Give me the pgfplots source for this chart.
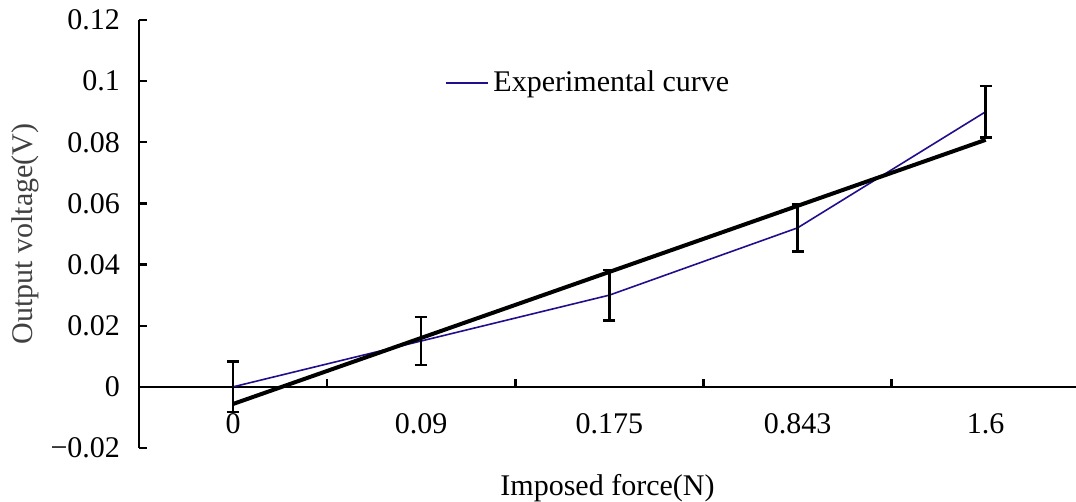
\documentclass[border=0pt]{standalone}
\usepackage{fontspec}
\setmainfont{Liberation Serif}
\usepackage{pgfplots}
\pgfplotsset{compat=1.18}
\usetikzlibrary{calc}
\definecolor{expblue}{RGB}{34,14,140}
\newcommand{\lblfont}{\fontsize{15}{18}\selectfont}
\begin{document}
\begin{tikzpicture}[font=\lblfont]
\begin{axis}[
  name=ax,
  scale only axis,
  width=468.5pt, height=214pt,
  xmin=-0.5, xmax=4.48,
  ymin=-0.02, ymax=0.12,
  axis y line*=left,
  axis x line*=middle,
  axis line style={line width=1.2pt, black},
  tick align=inside,
  xtick={0,1,2,3,4},
  xticklabels={0,0.09,0.175,0.843,1.6},
  minor xtick={0.5,1.5,2.5,3.5},
  major x tick style={draw=none},
  minor x tick style={line width=1.2pt, black},
  minor tick length=4pt,
  ytick={-0.02,0,0.02,0.04,0.06,0.08,0.1,0.12},
  yticklabels={−0.02,0,0.02,0.04,0.06,0.08,0.1,0.12},
  major y tick style={line width=1.2pt, black},
  major tick length=4pt,
  every tick label/.append style={font=\lblfont},
  xticklabel style={yshift=-10pt},
  yticklabel style={xshift=-6pt},
  xlabel={Imposed force(N)},
  xlabel style={at={(axis description cs:0.5,-0.0935)}, anchor=center, font=\lblfont},
  ylabel={Output voltage(V)},
  ylabel style={at={(axis description cs:-0.1217,0.5)}, anchor=center, font=\lblfont, text=black!75},
  legend style={draw=none, fill=none, at={(axis description cs:0.32,0.853)}, anchor=west, font=\lblfont},
  legend cell align=left,
  legend image code/.code={\draw[#1, line width=1.1pt] (0pt,0pt) -- (21pt,0pt);},
  clip=false,
]
% experimental data
\addplot[expblue, line width=0.8pt, mark=none] coordinates {
  (0,0) (1,0.015) (2,0.030) (3,0.052) (4,0.090)
};
\addlegendentry{Experimental curve}
% fitted line
\addplot[forget plot, black, line width=2pt, mark=none] coordinates {
  (0,-0.0056) (4,0.0808)
};
% error bars
\addplot[forget plot, draw=none, mark=none,
  error bars/.cd, y dir=both, y explicit,
  error bar style={draw=black, line width=1.2pt},
  error mark options={rotate=90, mark size=3pt, draw=black, line width=1.2pt}]
  coordinates {
  (0,0) +- (0,0.0083)
  (1,0.015) +- (0,0.0078)
  (2,0.030) +- (0,0.0083)
  (3,0.052) +- (0,0.0077)
  (4,0.090) +- (0,0.0085)
};
\end{axis}
\pgfresetboundingbox
\path[use as bounding box] ($(ax.south west)+(-69.5pt,-27pt)$) rectangle ($(ax.north east)+(0pt,10pt)$);
\end{tikzpicture}
\end{document}
